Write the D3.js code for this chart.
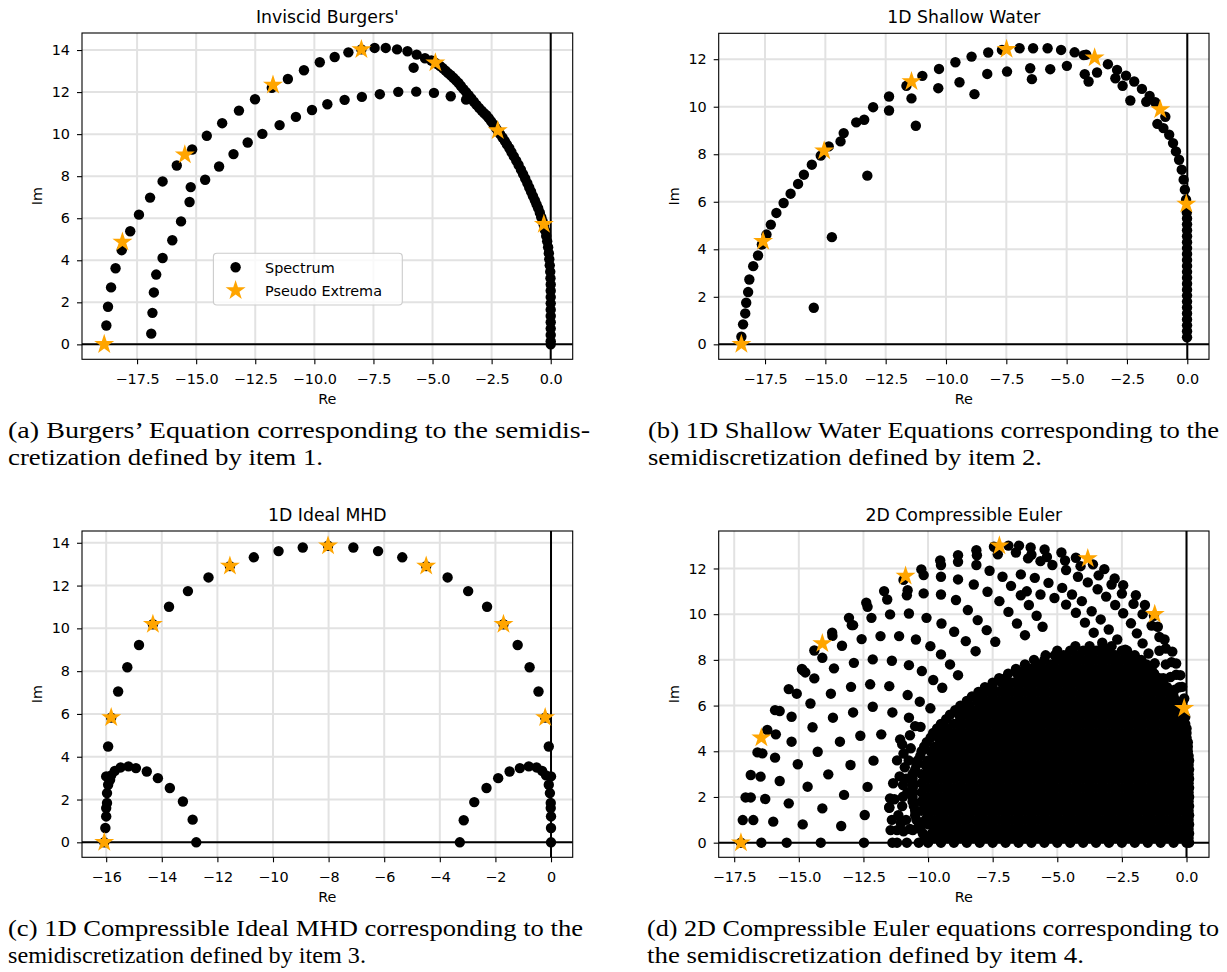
<!DOCTYPE html>
<html><head><meta charset="utf-8">
<script src="https://cdn.jsdelivr.net/npm/d3@7"></script>
<style>body{margin:0;background:#fff}svg{display:block}</style>
</head><body><svg id="fig" width="1227" height="972"></svg>
<script>
// ---------------- DATA ----------------
const panelTitles = ["Inviscid Burgers'", "1D Shallow Water", "1D Ideal MHD", "2D Compressible Euler"];
const legendLabels = ["Spectrum", "Pseudo Extrema"];
const axisLabels = {x: "Re", y: "Im"};
const xTicksA = [-17.5, -15, -12.5, -10, -7.5, -5, -2.5, 0];
const yTicksA = [0, 2, 4, 6, 8, 10, 12, 14];
const xTicksB = [-17.5, -15, -12.5, -10, -7.5, -5, -2.5, 0];
const yTicksB = [0, 2, 4, 6, 8, 10, 12];
const xTicksC = [-16, -14, -12, -10, -8, -6, -4, -2, 0];
const yTicksC = [0, 2, 4, 6, 8, 10, 12, 14];
const xTicksD = [-17.5, -15, -12.5, -10, -7.5, -5, -2.5, 0];
const yTicksD = [0, 2, 4, 6, 8, 10, 12];

const captionA = ["(a) Burgers\u2019 Equation corresponding to the semidis-", "cretization defined by item 1."];
const captionB = ["(b) 1D Shallow Water Equations corresponding to the", "semidiscretization defined by item 2."];
const captionC = ["(c) 1D Compressible Ideal MHD corresponding to the", "semidiscretization defined by item 3."];
const captionD = ["(d) 2D Compressible Euler equations corresponding to", "the semidiscretization defined by item 4."];

// (a) Inviscid Burgers'
const burgersOuter = [[-18.80,0.90],[-18.73,1.79],[-18.60,2.71],[-18.41,3.62],[-18.15,4.48],[-17.79,5.38],[-17.42,6.17],[-16.95,6.98],[-16.42,7.75],[-15.82,8.51],[-15.17,9.27],[-14.55,9.92],[-13.90,10.52],[-13.19,11.12],[-12.51,11.66],[-11.80,12.20],[-11.12,12.62],[-10.44,13.04],[-9.77,13.42],[-9.14,13.67],[-8.56,13.89],[-8.01,14.03],[-7.45,14.10],[-6.98,14.10],[-6.50,14.03],[-6.06,13.94],[-5.67,13.78],[-5.32,13.61]];
const burgersDense = [[-5.05,13.50],[-4.92,13.42],[-4.80,13.33],[-4.68,13.24],[-4.56,13.13],[-4.45,13.02],[-4.34,12.90],[-4.23,12.80],[-4.12,12.68],[-4.01,12.56],[-3.90,12.43],[-3.80,12.29],[-3.69,12.14],[-3.58,12.00],[-3.47,11.85],[-3.36,11.70],[-3.25,11.54],[-3.14,11.39],[-3.03,11.25],[-2.92,11.12],[-2.82,11.00],[-2.72,10.90],[-2.62,10.76],[-2.52,10.61],[-2.42,10.46],[-2.33,10.31],[-2.24,10.16],[-2.14,10.00],[-2.04,9.84],[-1.94,9.67],[-1.85,9.50],[-1.75,9.33],[-1.66,9.14],[-1.56,8.94],[-1.46,8.74],[-1.36,8.53],[-1.26,8.31],[-1.17,8.10],[-1.08,7.89],[-0.99,7.67],[-0.91,7.46],[-0.83,7.26],[-0.75,7.05],[-0.67,6.85],[-0.60,6.66],[-0.53,6.48],[-0.46,6.26],[-0.40,6.05],[-0.34,5.85],[-0.29,5.66],[-0.24,5.42],[-0.19,5.16],[-0.15,4.90],[-0.11,4.62],[-0.08,4.34],[-0.06,4.05],[-0.04,3.76],[-0.02,3.46],[-0.01,3.15],[0,2.85],[0,2.55],[0,2.25],[0,1.95],[0,1.65],[0,1.35],[0,1.05],[0,0.75],[0,0.45],[0,0.15],[0,0.0]];
const burgersInner = [[-16.90,0.51],[-16.85,1.50],[-16.79,2.47],[-16.69,3.32],[-16.42,4.11],[-16.01,4.95],[-15.64,5.85],[-15.28,6.77],[-15.23,7.48],[-14.62,7.83],[-14.03,8.46],[-13.42,9.05],[-12.82,9.60],[-12.20,10.01],[-11.47,10.43],[-10.78,10.82],[-10.10,11.15],[-9.45,11.42],[-8.72,11.63],[-7.99,11.77],[-7.23,11.90],[-6.45,12.01],[-5.69,12.02],[-4.94,11.96],[-4.23,11.80],[-3.58,11.64],[-5.80,13.16]];
const burgersStars = [[-18.89,0],[-18.12,4.87],[-15.48,9.02],[-11.75,12.34],[-8.01,14.03],[-4.88,13.40],[-2.24,10.17],[-0.29,5.71]];

// (b) 1D Shallow Water
const swOuter = [[-18.48,0.32],[-18.41,0.84],[-18.32,1.30],[-18.28,1.75],[-18.20,2.20],[-18.15,2.73],[-17.99,3.29],[-17.79,3.74],[-17.63,4.20],[-17.44,4.62],[-17.26,5.04],[-17.03,5.53],[-16.73,5.95],[-16.44,6.34],[-16.13,6.75],[-15.89,7.14],[-15.56,7.56],[-15.19,7.94],[-14.86,8.33],[-14.37,8.54],[-14.24,8.89],[-13.72,9.34],[-13.39,9.45],[-13.02,9.98],[-12.36,10.43],[-11.64,10.88],[-10.98,11.30],[-10.29,11.59],[-9.61,11.87],[-8.94,12.11],[-8.25,12.28],[-7.68,12.39],[-6.95,12.46],[-6.39,12.46],[-5.79,12.46],[-5.23,12.39],[-4.67,12.29],[-4.19,12.19],[-3.29,11.79],[-2.91,11.55],[-2.54,11.31],[-2.20,11.06],[-1.88,10.75],[-1.56,10.45],[-1.33,10.19],[-0.91,9.58],[-1.24,9.28],[-0.99,9.10],[-0.75,8.82],[-0.59,8.47],[-0.47,8.12],[-0.34,7.77],[-0.23,7.35],[-0.15,6.93],[-0.10,6.51],[-0.05,6.09]];
const swColumn = [[-0.01,0.30],[-0.01,0.55],[-0.01,0.80],[-0.01,1.05],[-0.01,1.30],[-0.01,1.55],[-0.01,1.80],[-0.01,2.05],[-0.01,2.30],[-0.01,2.55],[-0.01,2.80],[-0.01,3.05],[-0.01,3.30],[-0.01,3.55],[-0.01,3.80],[-0.01,4.05],[-0.01,4.30],[-0.01,4.55],[-0.01,4.80],[-0.01,5.05],[-0.01,5.30],[-0.02,5.55]];
const swInner = [[-15.48,1.54],[-14.73,4.51],[-13.26,7.10],[-11.25,9.20],[-11.43,10.35],[-12.36,9.84],[-10.32,10.78],[-9.44,11.03],[-8.82,10.53],[-8.29,11.38],[-7.47,11.48],[-6.51,11.62],[-6.44,11.16],[-5.68,11.58],[-4.99,11.72],[-4.25,11.37],[-4.09,11.06],[-3.74,11.44],[-2.98,11.20],[-2.68,10.88],[-2.36,10.26],[-1.70,10.21],[-4.29,12.17]];
const swStars = [[-18.48,0],[-17.58,4.34],[-15.05,8.15],[-11.43,11.06],[-7.49,12.42],[-3.84,12.06],[-1.12,9.88],[-0.04,5.91]];

// (c) 1D Ideal MHD
const mhdArch = [[-15.93,4.48],[-15.82,5.83],[-15.57,7.05],[-15.24,8.18],[-14.82,9.22],[-14.32,10.19],[-13.74,11.01],[-13.06,11.74],[-12.32,12.38],[-11.55,12.91],[-10.69,13.32],[-9.80,13.61],[-8.93,13.78],[-8.02,13.86],[-7.11,13.78],[-6.22,13.61],[-5.35,13.32],[-4.49,12.91],[-3.72,12.38],[-2.98,11.74],[-2.30,11.01],[-1.71,10.19],[-1.20,9.22],[-0.77,8.18],[-0.45,7.05],[-0.21,5.83],[-0.08,4.48]];
const mhdLeftLobe = [[-16.07,0],[-16.03,0.67],[-16.00,1.21],[-16.00,1.60],[-15.97,1.84],[-15.97,2.30],[-15.93,2.69],[-15.86,2.92],[-16.00,3.08],[-15.82,3.13],[-15.69,3.34],[-15.48,3.50],[-15.20,3.55],[-14.93,3.47],[-14.54,3.31],[-14.14,3.00],[-13.71,2.54],[-13.24,1.91],[-12.89,1.06],[-12.76,0]];
const mhdRightLobe = [[-3.28,0],[-3.14,1.03],[-2.76,1.88],[-2.32,2.54],[-1.90,3.00],[-1.49,3.31],[-1.12,3.47],[-0.80,3.55],[-0.52,3.50],[-0.32,3.34],[-0.18,3.13],[0,3.08],[-0.08,2.69],[-0.04,2.30],[-0.01,1.84],[-0.01,1.60],[0,1.21],[0,0.67],[0,0]];
const mhdStars = [[-16.07,0],[-15.82,5.83],[-14.32,10.19],[-11.55,12.91],[-8.02,13.86],[-4.49,12.91],[-1.71,10.19],[-0.21,5.83]];

// (d) 2D Compressible Euler
const eulerOuterArc = [[-17.24,0],[-17.17,0.99],[-17.06,1.98],[-16.86,2.96],[-16.60,3.95],[-16.22,4.93],[-15.92,5.80],[-15.39,6.72],[-14.88,7.60],[-14.40,8.41],[-13.71,9.19],[-13.06,9.84],[-12.39,10.50],[-11.70,11.01],[-10.95,11.50],[-10.26,11.96],[-9.53,12.35],[-8.84,12.58],[-8.13,12.80],[-7.45,12.95],[-6.89,13.00],[-6.48,13.00],[-6.03,12.92],[-5.49,12.83],[-4.84,12.70],[-4.28,12.47],[-3.62,12.18],[-3.18,11.97],[-2.78,11.56],[-2.45,11.27],[-1.96,10.83],[-1.61,10.40],[-1.26,9.93],[-1.11,9.45],[-0.85,8.89],[-0.55,8.36],[-0.40,7.84],[-0.24,7.33],[-0.17,6.82],[-0.09,6.31],[-0.05,5.50],[-0.03,4.90],[0.00,4.30]];
const eulerSecondArc = [[-16.76,0.99],[-16.86,1.98],[-16.48,2.89],[-16.41,3.91],[-15.89,4.74],[-15.74,5.76],[-15.08,6.52],[-14.75,7.45],[-14.09,8.09],[-13.70,9.05],[-12.90,9.52],[-12.34,10.32],[-11.58,10.64],[-10.79,11.05],[-10.17,11.71],[-9.50,12.15],[-8.84,12.29],[-8.11,12.58],[-7.30,12.62],[-6.60,12.70],[-6.00,12.60],[-5.40,12.50],[-4.70,12.35],[-4.10,12.10],[-3.40,11.70],[-2.90,11.30],[-2.50,10.90],[-2.05,10.45],[-1.70,10.00],[-1.35,9.50],[-1.05,9.00],[-0.80,8.50],[-0.58,7.90],[-0.40,7.35],[-0.28,6.80]];
const eulerInnerArcs = [
 [-16.45,0],[-15.47,0],[-14.15,0],[-12.48,0],[-11.38,0],[-11.20,0],[-10.82,0],[-10.36,0],
 [-15.99,0.92],[-14.85,0.80],[-13.36,0.73],[-12.45,1.21],[-11.50,1.53],[-11.05,0.85],[-10.59,0.55],
 [-16.30,1.91],[-15.39,1.72],[-14.09,1.50],[-13.25,2.09],[-12.34,2.44],[-11.47,1.94],[-10.97,2.01],[-10.59,2.45],
 [-15.74,2.70],[-14.66,2.45],[-13.86,2.99],[-13.00,3.40],[-12.11,3.59],[-10.97,2.52],
 [-15.92,3.72],[-15.04,3.43],[-14.27,3.98],[-13.41,4.42],[-12.62,4.68],[-11.81,4.74],[-11.08,4.52],[-10.67,4.13],
 [-15.28,4.42],[-14.47,5.05],[-13.68,5.47],[-12.90,5.70],[-12.14,5.95],[-11.38,5.70],[-10.74,5.47],[-10.29,5.07],
 [-15.28,5.51],[-14.55,6.09],[-13.76,6.52],[-12.98,6.82],[-12.24,6.93],[-11.50,6.85],[-10.79,6.46],[-10.32,6.17],[-9.91,5.88],
 [-14.85,7.55],[-14.40,7.19],[-13.64,7.63],[-12.87,7.87],[-12.14,8.02],[-11.40,7.96],[-10.74,7.77],[-10.24,7.51],[-9.80,7.12],[-9.45,6.78],
 [-13.33,8.62],[-12.57,8.91],[-11.84,9.04],[-11.12,9.04],[-10.47,8.89],[-9.91,8.60],[-9.50,8.24],[-9.15,7.80],[-8.84,7.33],
 [-12.95,9.52],[-12.19,9.84],[-11.47,9.99],[-10.74,10.03],[-10.06,9.84],[-9.48,9.59],[-8.99,9.23],[-8.54,8.82],[-8.16,8.38],
 [-10.82,10.83],[-10.17,10.91],[-9.50,10.86],[-8.92,10.62],[-8.46,10.18],[-8.08,9.74],[-7.73,9.30],[-7.40,8.79],
 [-9.50,11.64],[-8.84,11.52],[-8.23,11.30],[-7.70,10.98],[-7.24,10.57],[-6.89,10.10],[-6.56,9.59],[-6.25,9.08],
 [-8.13,12.15],[-7.62,11.90],[-7.12,11.64],[-6.79,11.24],[-6.41,10.83],[-6.10,10.40],[-5.80,9.93],[-5.57,9.45],
 [-6.13,12.44],[-5.65,12.32],[-5.19,12.15],[-4.66,11.93],[-4.20,11.64],[-3.82,11.39],[-3.44,11.09],[-3.11,10.77],[-2.76,10.40],[-2.45,10.04],[-2.15,9.60],[-1.92,9.16],[-1.70,8.72],[-1.47,8.28],[-1.23,7.85],
 [-6.41,11.74],[-5.87,11.59],[-5.34,11.37],[-4.81,11.15],[-4.43,10.86],[-4.05,10.57],[-3.67,10.13],[-3.32,9.77],[-3.01,9.33],[-2.68,8.89],[-2.37,8.45],[-2.07,7.94],[-1.84,7.43],[-1.61,6.92],[-1.46,6.48],
 [-6.18,11.00],[-5.65,10.86],[-5.11,10.71],[-4.66,10.42],[-4.28,10.06],[-3.93,9.63],[-3.59,9.19],[-3.26,8.75],[-2.95,8.31],[-2.68,7.80],
 [-1.05,8.40],[-0.80,7.80],[-0.62,7.25],[-0.45,6.70],[-0.30,6.10],[-0.90,7.20],[-0.70,6.60],[-1.20,6.80],
 [-11.45,0.55],[-11.20,0.55],[-10.95,0.50],[-10.70,0.60],[-11.40,1.00],[-11.15,1.20],[-10.85,1.00],
 [-11.50,1.55],[-11.30,1.90],[-11.00,1.60],[-10.80,2.20],[-11.35,2.60],[-11.10,2.90],[-10.85,2.80],[-10.90,3.30],
 [-11.20,3.60],[-10.95,3.90],[-10.75,3.60],[-11.00,4.30],[-10.70,4.70],[-10.50,5.10]
];
const eulerDenseRows = [
 [0.0,[-10,-9.5,-9,-8.5,-8,-7.5,-7,-6.5,-6,-5.5,-5,-4.5,-4,-3.5,-3,-2.5,-2,-1.5,-1,-0.5,0,0.1]],
 [0.2,[-10.1,-9.75,-9.25,-8.75,-8.25,-7.75,-7.25,-6.75,-6.25,-5.75,-5.25,-4.75,-4.25,-3.75,-3.25,-2.75,-2.25,-1.75,-1.25,-0.75,-0.25,0.08]],
 [0.4,[-10.2,-9.85,-9.5,-9,-8.5,-8,-7.5,-7,-6.5,-6,-5.5,-5,-4.5,-4,-3.5,-3,-2.5,-2,-1.5,-1,-0.5,0,0.1]],
 [0.6,[-10.3,-9.75,-9.25,-8.75,-8.25,-7.75,-7.25,-6.75,-6.25,-5.75,-5.25,-4.75,-4.25,-3.75,-3.25,-2.75,-2.25,-1.75,-1.25,-0.75,-0.25,0.08]],
 [0.8,[-10.35,-10,-9.5,-9,-8.5,-8,-7.5,-7,-6.5,-6,-5.5,-5,-4.5,-4,-3.5,-3,-2.5,-2,-1.5,-1,-0.5,0,0.1]],
 [1.0,[-10.45,-10.1,-9.75,-9.25,-8.75,-8.25,-7.75,-7.25,-6.75,-6.25,-5.75,-5.25,-4.75,-4.25,-3.75,-3.25,-2.75,-2.25,-1.75,-1.25,-0.75,-0.25,0.08]],
 [1.2,[-10.5,-10,-9.5,-9,-8.5,-8,-7.5,-7,-6.5,-6,-5.5,-5,-4.5,-4,-3.5,-3,-2.5,-2,-1.5,-1,-0.5,0,0.1]],
 [1.4,[-10.5,-10.25,-9.75,-9.25,-8.75,-8.25,-7.75,-7.25,-6.75,-6.25,-5.75,-5.25,-4.75,-4.25,-3.75,-3.25,-2.75,-2.25,-1.75,-1.25,-0.75,-0.25,0.08]],
 [1.6,[-10.55,-10,-9.5,-9,-8.5,-8,-7.5,-7,-6.5,-6,-5.5,-5,-4.5,-4,-3.5,-3,-2.5,-2,-1.5,-1,-0.5,0,0.1]],
 [1.8,[-10.6,-10.25,-9.75,-9.25,-8.75,-8.25,-7.75,-7.25,-6.75,-6.25,-5.75,-5.25,-4.75,-4.25,-3.75,-3.25,-2.75,-2.25,-1.75,-1.25,-0.75,-0.25,0.08]],
 [2.0,[-10.6,-10,-9.5,-9,-8.5,-8,-7.5,-7,-6.5,-6,-5.5,-5,-4.5,-4,-3.5,-3,-2.5,-2,-1.5,-1,-0.5,0,0.1]],
 [2.2,[-10.6,-10.25,-9.75,-9.25,-8.75,-8.25,-7.75,-7.25,-6.75,-6.25,-5.75,-5.25,-4.75,-4.25,-3.75,-3.25,-2.75,-2.25,-1.75,-1.25,-0.75,-0.25,0.08]],
 [2.4,[-10.6,-10,-9.5,-9,-8.5,-8,-7.5,-7,-6.5,-6,-5.5,-5,-4.5,-4,-3.5,-3,-2.5,-2,-1.5,-1,-0.5,0,0.1]],
 [2.6,[-10.6,-10.25,-9.75,-9.25,-8.75,-8.25,-7.75,-7.25,-6.75,-6.25,-5.75,-5.25,-4.75,-4.25,-3.75,-3.25,-2.75,-2.25,-1.75,-1.25,-0.75,-0.25,0.08]],
 [2.8,[-10.6,-10,-9.5,-9,-8.5,-8,-7.5,-7,-6.5,-6,-5.5,-5,-4.5,-4,-3.5,-3,-2.5,-2,-1.5,-1,-0.5,0,0.1]],
 [3.0,[-10.6,-10.25,-9.75,-9.25,-8.75,-8.25,-7.75,-7.25,-6.75,-6.25,-5.75,-5.25,-4.75,-4.25,-3.75,-3.25,-2.75,-2.25,-1.75,-1.25,-0.75,-0.25,0.08]],
 [3.2,[-10.5,-10,-9.5,-9,-8.5,-8,-7.5,-7,-6.5,-6,-5.5,-5,-4.5,-4,-3.5,-3,-2.5,-2,-1.5,-1,-0.5,0,0.1]],
 [3.4,[-10.45,-10.1,-9.75,-9.25,-8.75,-8.25,-7.75,-7.25,-6.75,-6.25,-5.75,-5.25,-4.75,-4.25,-3.75,-3.25,-2.75,-2.25,-1.75,-1.25,-0.75,-0.25,0.08]],
 [3.6,[-10.4,-10,-9.5,-9,-8.5,-8,-7.5,-7,-6.5,-6,-5.5,-5,-4.5,-4,-3.5,-3,-2.5,-2,-1.5,-1,-0.5,0,0.1]],
 [3.8,[-10.3,-9.75,-9.25,-8.75,-8.25,-7.75,-7.25,-6.75,-6.25,-5.75,-5.25,-4.75,-4.25,-3.75,-3.25,-2.75,-2.25,-1.75,-1.25,-0.75,-0.25,0.08]],
 [4.0,[-10.25,-9.9,-9.5,-9,-8.5,-8,-7.5,-7,-6.5,-6,-5.5,-5,-4.5,-4,-3.5,-3,-2.5,-2,-1.5,-1,-0.5,0,0.05]],
 [4.2,[-10.15,-9.75,-9.25,-8.75,-8.25,-7.75,-7.25,-6.75,-6.25,-5.75,-5.25,-4.75,-4.25,-3.75,-3.25,-2.75,-2.25,-1.75,-1.25,-0.75,-0.25,0.05]],
 [4.4,[-10.05,-9.5,-9,-8.5,-8,-7.5,-7,-6.5,-6,-5.5,-5,-4.5,-4,-3.5,-3,-2.5,-2,-1.5,-1,-0.5,0,0.05]],
 [4.6,[-9.9,-9.6,-9.25,-8.75,-8.25,-7.75,-7.25,-6.75,-6.25,-5.75,-5.25,-4.75,-4.25,-3.75,-3.25,-2.75,-2.25,-1.75,-1.25,-0.75,-0.25,0.0]],
 [4.8,[-9.8,-9.5,-9,-8.5,-8,-7.5,-7,-6.5,-6,-5.5,-5,-4.5,-4,-3.5,-3,-2.5,-2,-1.5,-1,-0.5,0]],
 [5.0,[-9.65,-9.25,-8.75,-8.25,-7.75,-7.25,-6.75,-6.25,-5.75,-5.25,-4.75,-4.25,-3.75,-3.25,-2.75,-2.25,-1.75,-1.25,-0.75,-0.25,0]],
 [5.2,[-9.5,-9,-8.5,-8,-7.5,-7,-6.5,-6,-5.5,-5,-4.5,-4,-3.5,-3,-2.5,-2,-1.5,-1,-0.5,-0.05]],
 [5.4,[-9.3,-8.75,-8.25,-7.75,-7.25,-6.75,-6.25,-5.75,-5.25,-4.75,-4.25,-3.75,-3.25,-2.75,-2.25,-1.75,-1.25,-0.75,-0.25,-0.1]],
 [5.6,[-9.15,-8.8,-8.5,-8,-7.5,-7,-6.5,-6,-5.5,-5,-4.5,-4,-3.5,-3,-2.5,-2,-1.5,-1,-0.5,-0.15]],
 [5.8,[-8.95,-8.6,-8.25,-7.75,-7.25,-6.75,-6.25,-5.75,-5.25,-4.75,-4.25,-3.75,-3.25,-2.75,-2.25,-1.75,-1.25,-0.75,-0.25]],
 [6.0,[-8.75,-8.4,-8,-7.5,-7,-6.5,-6,-5.5,-5,-4.5,-4,-3.5,-3,-2.5,-2,-1.5,-1,-0.5,-0.3]],
 [6.2,[-8.5,-8.1,-7.75,-7.25,-6.75,-6.25,-5.75,-5.25,-4.75,-4.25,-3.75,-3.25,-2.75,-2.25,-1.75,-1.25,-0.75,-0.4]],
 [6.4,[-8.3,-8,-7.5,-7,-6.5,-6,-5.5,-5,-4.5,-4,-3.5,-3,-2.5,-2,-1.5,-1,-0.5]],
 [6.6,[-8.05,-7.75,-7.25,-6.75,-6.25,-5.75,-5.25,-4.75,-4.25,-3.75,-3.25,-2.75,-2.25,-1.75,-1.25,-0.75,-0.6]],
 [6.8,[-7.8,-7.5,-7,-6.5,-6,-5.5,-5,-4.5,-4,-3.5,-3,-2.5,-2,-1.5,-1,-0.75]],
 [7.0,[-7.5,-7.15,-6.75,-6.25,-5.75,-5.25,-4.75,-4.25,-3.75,-3.25,-2.75,-2.25,-1.75,-1.25,-0.9]],
 [7.2,[-7.25,-7,-6.5,-6,-5.5,-5,-4.5,-4,-3.5,-3,-2.5,-2,-1.5,-1.05]],
 [7.4,[-6.9,-6.55,-6.25,-5.75,-5.25,-4.75,-4.25,-3.75,-3.25,-2.75,-2.25,-1.75,-1.25]],
 [7.6,[-6.6,-6.25,-6,-5.5,-5,-4.5,-4,-3.5,-3,-2.5,-2,-1.5,-1.35]],
 [7.8,[-6.25,-5.75,-5.25,-4.75,-4.25,-3.75,-3.25,-2.75,-2.25,-1.75,-1.55]],
 [8.0,[-5.9,-5.5,-5,-4.5,-4,-3.5,-3,-2.5,-2,-1.75]],
 [8.2,[-5.45,-5.1,-4.75,-4.25,-3.75,-3.25,-2.75,-2.25,-2.0]],
 [8.4,[-5.0,-4.5,-4,-3.5,-3,-2.5,-2.3]],
 [8.6,[-4.3,-3.75,-3.25,-2.9]]
];
const eulerStars = [[-17.24,0],[-16.45,4.59],[-14.09,8.72],[-10.87,11.67],[-7.24,12.99],[-3.82,12.44],[-1.23,10.00],[-0.09,5.88]];

// ---------------- DRAWING ----------------
const svg = d3.select('#fig');
const FONT = "'DejaVu Sans', sans-serif";
const fmt1 = d3.format('.1f');
const fmtInt = d3.format('d');

function drawPanel(p) {
  const [L, R, T, B] = p.box;
  const x = d3.scaleLinear().domain(p.xDomain).range([L, R]);
  const y = d3.scaleLinear().domain(p.yDomain).range([B, T]);
  const g = svg.append('g');
  const cid = 'clip' + p.id;
  svg.append('clipPath').attr('id', cid).append('rect')
     .attr('x', L).attr('y', T).attr('width', R - L).attr('height', B - T);
  const plot = g.append('g').attr('clip-path', `url(#${cid})`);
  plot.append('g').selectAll('line').data(p.xTicks).join('line')
    .attr('x1', d => x(d)).attr('x2', d => x(d)).attr('y1', T).attr('y2', B)
    .attr('stroke', '#e2e2e2').attr('stroke-width', 2);
  plot.append('g').selectAll('line').data(p.yTicks).join('line')
    .attr('y1', d => y(d)).attr('y2', d => y(d)).attr('x1', L).attr('x2', R)
    .attr('stroke', '#e2e2e2').attr('stroke-width', 2);
  plot.append('g').selectAll('circle').data(p.spectrum).join('circle')
    .attr('cx', d => x(d[0])).attr('cy', d => y(d[1])).attr('r', 5.2).attr('fill', '#000');
  plot.append('line').attr('x1', L).attr('x2', R).attr('y1', y(0)).attr('y2', y(0))
    .attr('stroke', '#000').attr('stroke-width', 2);
  plot.append('line').attr('x1', x(0)).attr('x2', x(0)).attr('y1', T).attr('y2', B)
    .attr('stroke', '#000').attr('stroke-width', 2);
  const star = d3.symbol(d3.symbolStar, 124);
  plot.append('g').selectAll('path').data(p.stars).join('path')
    .attr('d', star).attr('transform', d => `translate(${x(d[0])},${y(d[1])})`)
    .attr('fill', 'orange');
  g.append('rect').attr('x', L).attr('y', T).attr('width', R - L).attr('height', B - T)
    .attr('fill', 'none').attr('stroke', '#000').attr('stroke-width', 1.1);
  const ax = g.append('g').attr('transform', `translate(0,${B})`)
    .call(d3.axisBottom(x).tickValues(p.xTicks).tickFormat(p.xFmt).tickSize(5).tickPadding(9));
  const ay = g.append('g').attr('transform', `translate(${L},0)`)
    .call(d3.axisLeft(y).tickValues(p.yTicks).tickFormat(fmtInt).tickSize(5).tickPadding(7));
  [ax, ay].forEach(a => {
    a.select('.domain').remove();
    a.selectAll('line').attr('stroke', '#000').attr('stroke-width', 1.1);
    a.selectAll('text').attr('font-family', FONT).attr('font-size', 14.4).attr('fill', '#000');
  });
  ax.selectAll('text').attr('dy', '0.71em');
  g.append('text').attr('x', (L + R) / 2).attr('y', B + 45).attr('text-anchor', 'middle')
    .attr('font-family', FONT).attr('font-size', 14.4).text(axisLabels.x);
  g.append('text').attr('transform', `translate(${L - 40},${(T + B) / 2}) rotate(-90)`)
    .attr('text-anchor', 'middle').attr('font-family', FONT).attr('font-size', 14.4).text(axisLabels.y);
  g.append('text').attr('x', (L + R) / 2).attr('y', T - 10.5).attr('text-anchor', 'middle')
    .attr('font-family', FONT).attr('font-size', 17.3).text(p.title);
  p.caption.forEach((line, i) => {
    svg.append('text').attr('x', p.capX).attr('y', p.capY + i * 26.5)
      .attr('font-family', "'Liberation Serif', serif").attr('font-size', 22.5)
      .attr('textLength', p.capW[i]).attr('lengthAdjust', 'spacingAndGlyphs')
      .text(line);
  });
  return {x, y, g};
}

const flatRows = rows => rows.flatMap(([yy, xs]) => xs.map(xx => [xx, yy]));

const pa = drawPanel({id: 'a', box: [82, 572.7, 33, 359.3], xDomain: [-19.83, 0.93], yDomain: [-0.71, 14.81],
  xTicks: xTicksA, yTicks: yTicksA, xFmt: fmt1, title: panelTitles[0],
  spectrum: burgersOuter.concat(burgersDense, burgersInner), stars: burgersStars,
  caption: captionA, capX: 8, capY: 438, capW: [582, 315]});
drawPanel({id: 'b', box: [718.7, 1209, 33.3, 359.3], xDomain: [-19.42, 0.90], yDomain: [-0.63, 13.09],
  xTicks: xTicksB, yTicks: yTicksB, xFmt: fmt1, title: panelTitles[1],
  spectrum: swOuter.concat(swColumn, swInner), stars: swStars,
  caption: captionB, capX: 648, capY: 438, capW: [571, 394]});
drawPanel({id: 'c', box: [82, 572.7, 531, 857.3], xDomain: [-16.87, 0.78], yDomain: [-0.70, 14.55],
  xTicks: xTicksC, yTicks: yTicksC, xFmt: fmtInt, title: panelTitles[2],
  spectrum: mhdArch.concat(mhdLeftLobe, mhdRightLobe), stars: mhdStars,
  caption: captionC, capX: 8, capY: 936, capW: [575, 358]});
drawPanel({id: 'd', box: [718.7, 1209, 531, 857.3], xDomain: [-18.10, 0.87], yDomain: [-0.64, 13.64],
  xTicks: xTicksD, yTicks: yTicksD, xFmt: fmt1, title: panelTitles[3],
  spectrum: eulerOuterArc.concat(eulerSecondArc, eulerInnerArcs, flatRows(eulerDenseRows)), stars: eulerStars,
  caption: captionD, capX: 647, capY: 936, capW: [572, 437]});

const lg = pa.g.append('g');
lg.append('rect').attr('x', 213.4).attr('y', 253.3).attr('width', 188.9).attr('height', 51.7)
  .attr('rx', 3.5).attr('fill', 'rgba(255,255,255,0.8)').attr('stroke', '#cccccc').attr('stroke-width', 1.1);
lg.append('circle').attr('cx', 235.6).attr('cy', 267.3).attr('r', 5.2).attr('fill', '#000');
lg.append('path').attr('d', d3.symbol(d3.symbolStar, 124)).attr('transform', 'translate(235.6,290.5)').attr('fill', 'orange');
legendLabels.forEach((t, i) => lg.append('text').attr('x', 265).attr('y', 272.5 + i * 23.3)
  .attr('font-family', FONT).attr('font-size', 14.4).text(t));
</script></body></html>
